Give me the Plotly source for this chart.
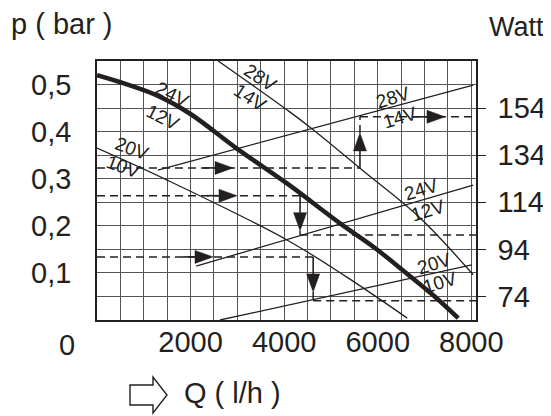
import plotly.graph_objects as go

# ---------------- data ----------------
# pump curves p (bar) versus Q (l/h)
q_24v = [0, 560, 1280, 1990, 2990, 4060, 5240, 5940, 6580, 7180, 7720]
p_24v = [0.520, 0.503, 0.477, 0.438, 0.364, 0.290, 0.202, 0.153, 0.102, 0.053, 0.004]

q_28v = [2590, 4120, 4620, 5660, 6900, 8040]
p_28v = [0.550, 0.442, 0.404, 0.319, 0.217, 0.096]

q_20v = [0, 1500, 4060, 5340, 6630]
p_20v = [0.365, 0.297, 0.170, 0.091, 0.004]

# power curves W versus Q (l/h)
q_pw28 = [1300, 8040]
w_pw28 = [127.7, 163.8]
q_pw24 = [2120, 8040]
w_pw24 = [86.9, 121.3]
q_pw20 = [2630, 8010]
w_pw20 = [64.0, 87.4]

# operating points (28V, 24V, 20V)
op_q = [5620, 4340, 4620]
op_p = [0.323, 0.264, 0.134]
op_w = [150.3, 100.1, 72.2]

x_ticks = [2000, 4000, 6000, 8000]
x_ticktext = ["2000", "4000", "6000", "8000"]
p_ticks = [0.1, 0.2, 0.3, 0.4, 0.5]
p_ticktext = ["0,1", "0,2", "0,3", "0,4", "0,5"]
w_ticks = [74, 94, 114, 134, 154]
w_ticktext = ["74", "94", "114", "134", "154"]

# ---------------- geometry / style ----------------
BODY = 8                      # default page margin of the html body
W, H = 551 - BODY, 416 - BODY
ML, MR, MT, MB = 97 - BODY, 75, 61 - BODY, 96
PW, PH = W - ML - MR, H - MT - MB
X_MAX = 8100
P_MAX = 0.55
W_MIN, W_MAX = 64, 174
QPX = X_MAX / PW          # Q units per pixel
PPX = P_MAX / PH          # p units per pixel

INK = "#231f20"
FONT = "Liberation Sans, Arial, sans-serif"
DASH = "8px,5px"


def w_to_p(w):
    return (w - W_MIN) / (W_MAX - W_MIN) * P_MAX


def paper_x(page_px):
    return (page_px - BODY - ML) / PW


def paper_y(page_py):
    return (MT + PH - (page_py - BODY)) / PH


fig = go.Figure()


def add_line(x, y, width=1.3, dash=None, yaxis="y", color=INK, shape="linear"):
    fig.add_trace(go.Scatter(x=x, y=y, mode="lines", yaxis=yaxis,
                             line=dict(color=color, width=width, dash=dash, shape=shape),
                             hoverinfo="skip", showlegend=False))


def add_arrow(qt, pt, direction, head=18, half=6.5, shaft=12):
    """filled arrow head with a short solid shaft, tip at (qt, pt)"""
    if direction == "right":
        xs = [qt, qt - head * QPX, qt - head * QPX, qt]
        ys = [pt, pt + half * PPX, pt - half * PPX, pt]
        sx = [qt - (head + shaft) * QPX, qt - head * QPX]
        sy = [pt, pt]
    elif direction == "up":
        xs = [qt, qt - half * QPX, qt + half * QPX, qt]
        ys = [pt, pt - head * PPX, pt - head * PPX, pt]
        sx = [qt, qt]
        sy = [pt - (head + shaft) * PPX, pt - head * PPX]
    else:  # down
        xs = [qt, qt - half * QPX, qt + half * QPX, qt]
        ys = [pt, pt + head * PPX, pt + head * PPX, pt]
        sx = [qt, qt]
        sy = [pt + (head + shaft) * PPX, pt + head * PPX]
    add_line(sx, sy, width=1.6)
    fig.add_trace(go.Scatter(x=xs, y=ys, mode="lines", fill="toself",
                             fillcolor=INK, line=dict(color=INK, width=0.5),
                             hoverinfo="skip", showlegend=False))


# pump curves
add_line(q_28v, p_28v, width=1.3, shape="spline")
add_line(q_20v, p_20v, width=1.3, shape="spline")
add_line(q_24v, p_24v, width=4.5, shape="spline")

# power curves (Watt axis)
add_line(q_pw28, w_pw28, width=1.3, yaxis="y2")
add_line(q_pw24, w_pw24, width=1.3, yaxis="y2")
add_line(q_pw20, w_pw20, width=1.3, yaxis="y2")

# reading lines through the operating points
left_arrow_q = [2907, 2992, 2479]
vert_len = 35  # px
for i in range(3):
    q, p, w = op_q[i], op_p[i], op_w[i]
    pw = w_to_p(w)
    add_line([0, q], [p, p], width=1.5, dash=DASH)
    add_arrow(left_arrow_q[i], p, "right")
    if pw > p:
        tip = p + vert_len * PPX
        add_arrow(q, tip, "up", shaft=vert_len - 18)
    else:
        tip = p - vert_len * PPX
        add_arrow(q, tip, "down", shaft=vert_len - 18)
    add_line([q, q], [tip, pw], width=1.5, dash=DASH)
    add_line([q, X_MAX], [w, w], width=1.5, dash=DASH, yaxis="y2")
add_arrow(7437, w_to_p(op_w[0]), "right", shaft=14)

# curve labels (voltage)
labels = [
    ("24V", 1603, 0.478, 27), ("12V", 1411, 0.431, 27),
    ("28V", 3484, 0.514, 33), ("14V", 3270, 0.472, 33),
    ("20V", 748, 0.365, 20), ("10V", 545, 0.325, 20),
    ("28V", 6326, 0.472, -17), ("14V", 6476, 0.429, -17),
    ("24V", 6924, 0.278, -17), ("12V", 7074, 0.2315, -17),
    ("20V", 7202, 0.121, -17), ("10V", 7330, 0.0786, -17),
]
for txt, lx, ly, ang in labels:
    fig.add_annotation(x=lx, y=ly, xref="x", yref="y", text=txt,
                       textangle=ang, showarrow=False,
                       font=dict(family=FONT, size=19, color=INK))

# axis titles and corner label
fig.add_annotation(xref="paper", yref="paper", x=paper_x(9), y=paper_y(24),
                   text="p ( bar )", showarrow=False, xanchor="left", yanchor="middle",
                   font=dict(family=FONT, size=29, color=INK))
fig.add_annotation(xref="paper", yref="paper", x=paper_x(546), y=paper_y(27),
                   text="Watt", showarrow=False, xanchor="right", yanchor="middle",
                   font=dict(family=FONT, size=27, color=INK))
fig.add_annotation(xref="paper", yref="paper", x=paper_x(67), y=paper_y(345),
                   text="0", showarrow=False, xanchor="center", yanchor="middle",
                   font=dict(family=FONT, size=29, color=INK))
fig.add_annotation(xref="paper", yref="paper", x=paper_x(182), y=paper_y(393),
                   text="Q ( l/h )", showarrow=False, xanchor="left", yanchor="middle",
                   font=dict(family=FONT, size=29, color=INK))

# outlined arrow sign in front of the Q label
ax0, ax1, ax2 = paper_x(130), paper_x(153), paper_x(167)
ay_t, ay_st, ay_sb, ay_b, ay_m = paper_y(377), paper_y(385), paper_y(405), paper_y(413), paper_y(395)
fig.add_shape(type="path", xref="paper", yref="paper",
              path=(f"M{ax0},{ay_st} L{ax1},{ay_st} L{ax1},{ay_t} L{ax2},{ay_m} "
                    f"L{ax1},{ay_b} L{ax1},{ay_sb} L{ax0},{ay_sb} Z"),
              line=dict(color=INK, width=1.4), fillcolor="rgba(0,0,0,0)")

GRID = "#555555"
fig.update_layout(
    width=W, height=H,
    margin=dict(l=ML, r=MR, t=MT, b=MB, pad=0, autoexpand=False),
    paper_bgcolor="white", plot_bgcolor="white",
    showlegend=False,
    xaxis=dict(range=[0, X_MAX], tickvals=x_ticks, ticktext=x_ticktext,
               showgrid=True, gridcolor=GRID, gridwidth=1,
               minor=dict(dtick=500, tick0=0, showgrid=True, gridcolor=GRID, gridwidth=1),
               showline=True, linecolor=INK, linewidth=1.6, mirror=True,
               ticks="", ticklabelstandoff=-5, zeroline=False, automargin=False,
               tickfont=dict(family=FONT, size=29, color=INK), fixedrange=True),
    yaxis=dict(range=[0, P_MAX], tickvals=p_ticks, ticktext=p_ticktext,
               showgrid=True, gridcolor=GRID, gridwidth=1,
               minor=dict(dtick=0.05, tick0=0, showgrid=True, gridcolor=GRID, gridwidth=1),
               showline=True, linecolor=INK, linewidth=1.6, mirror=True,
               ticks="", ticklabelstandoff=18, zeroline=False, automargin=False,
               tickfont=dict(family=FONT, size=29, color=INK), fixedrange=True),
    yaxis2=dict(range=[W_MIN, W_MAX], tickvals=w_ticks, ticktext=w_ticktext,
                overlaying="y", side="right", showgrid=False, zeroline=False,
                showline=True, linecolor=INK, linewidth=1.6, automargin=False,
                ticks="outside", ticklen=8, tickwidth=1.3, tickcolor=INK,
                ticklabelstandoff=6,
                tickfont=dict(family=FONT, size=29, color=INK), fixedrange=True),
)

fig.write_html("out.html")
